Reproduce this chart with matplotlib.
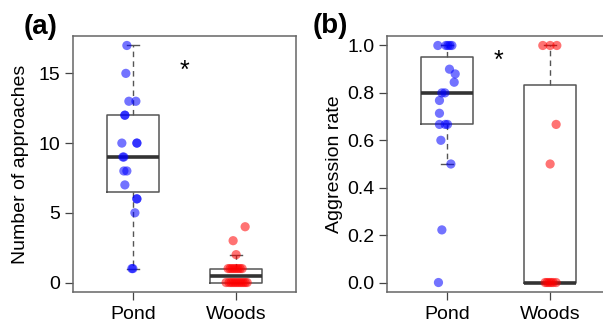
import matplotlib
matplotlib.use("Agg")
import matplotlib.pyplot as plt
import numpy as np

plt.rcParams['font.family'] = ['Liberation Sans', 'DejaVu Sans']

groups = ['Pond', 'Woods']

# panel (a): number of approaches
pond_approaches = [17, 15, 13, 13, 12, 12, 10, 10, 10, 9, 9, 8, 8, 7, 6, 6, 5, 1, 1]
pond_approaches_jit = [-6, -7, -4, 3, -8, -8, -11, 4, 4, -10, -9, -9, -6, -8, 4, 4, 2, -1, 0]
woods_approaches = [4, 3, 2] + [1] * 8 + [0] * 11
woods_approaches_jit = [9, -3, 0, -8, -6, -4, -2, 0, 2, 4, 6,
                        -10, -7, -5, -3, -1, 1, 3, 5, 7, 9, 11]

# panel (b): aggression rate
pond_rate = [1, 1, 1, 1, 1, 0.9, 0.88, 0.845, 0.8, 0.8, 0.768, 0.714,
             0.667, 0.667, 0.667, 0.6, 0.5, 0.222, 0.0]
pond_rate_jit = [-9, -1, 1, 3, 5, 2.6, 8.3, 7.3, -5, -2, -7.4, -7.4,
                 -7.4, -1.7, 0.6, -6, 4, -5, -8.4]
woods_rate = [1, 1, 1, 0.667, 0.5, 0, 0, 0, 0, 0, 0]
woods_rate_jit = [-7.3, 0, 6.7, 6, 0, -5, -3, -1, 1, 3, 6]

px_per_unit = 103.0
pt_colors = ['#0000ff', '#ff0000']
fs = 14

fig = plt.figure(figsize=(6.03, 3.24), dpi=100)
ax_a = fig.add_axes([73 / 603, 32 / 324, 223 / 603, 256 / 324])
ax_b = fig.add_axes([387 / 603, 32 / 324, 223 / 603, 256 / 324])


def draw_panel(ax, data, jit, ylim, yticks, yticklabels, ylabel, lpad):
    ax.boxplot(data, positions=[1, 2], widths=0.5, showfliers=False,
               whis=1.5, capwidths=0.11,
               boxprops=dict(color='#555555', linewidth=1.1),
               medianprops=dict(color='#333333', linewidth=2.6),
               whiskerprops=dict(color='#555555', linewidth=1.0,
                                 linestyle=(0, (4, 3))),
               capprops=dict(color='#555555', linewidth=1.0))
    for i, (vals, offs) in enumerate(zip(data, jit)):
        x = i + 1 + np.array(offs) / px_per_unit
        ax.scatter(x, vals, s=44, color=pt_colors[i], alpha=0.55,
                   edgecolors='none', zorder=3)
    ax.set_xlim(0.42, 2.58)
    ax.set_ylim(*ylim)
    ax.set_xticks([1, 2])
    ax.set_xticklabels(groups, fontsize=fs)
    ax.set_yticks(yticks)
    ax.set_yticklabels(yticklabels, fontsize=fs)
    ax.set_ylabel(ylabel, fontsize=fs, labelpad=lpad)
    ax.tick_params(direction='out', length=6, width=0.9, color='#444444',
                   pad=3)
    ax.tick_params(axis='x', pad=4)
    for s in ax.spines.values():
        s.set_color('#666666')
        s.set_linewidth(1.1)


draw_panel(ax_a, [pond_approaches, woods_approaches],
           [pond_approaches_jit, woods_approaches_jit],
           (-0.68, 17.68), [0, 5, 10, 15], ['0', '5', '10', '15'],
           'Number of approaches', 7)
ax_a.text(1.5, 15.2, '*', ha='center', va='center', fontsize=18)

draw_panel(ax_b, [pond_rate, woods_rate], [pond_rate_jit, woods_rate_jit],
           (-0.04, 1.04), [0, 0.2, 0.4, 0.6, 0.8, 1.0],
           ['0.0', '0.2', '0.4', '0.6', '0.8', '1.0'], 'Aggression rate', 3)
ax_b.text(1.5, 0.935, '*', ha='center', va='center', fontsize=18)

fig.text(41 / 603, 1 - 27 / 324, '(a)', ha='center', va='center',
         fontsize=20, fontweight='bold')
fig.text(330 / 603, 1 - 26 / 324, '(b)', ha='center', va='center',
         fontsize=20, fontweight='bold')

fig.savefig('out.png', dpi=100)
